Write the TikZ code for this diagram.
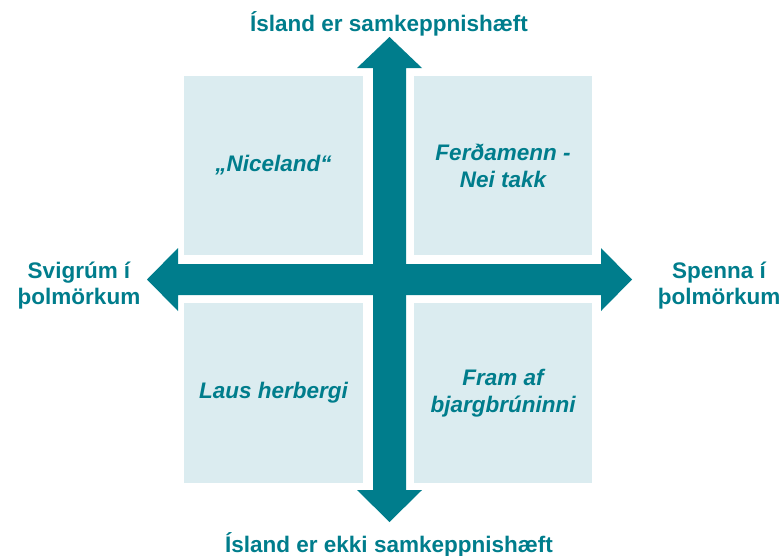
\documentclass[tikz,border=0pt]{standalone}
\usepackage{fontspec}
\setmainfont{Liberation Sans}
\definecolor{teal}{RGB}{0,125,140}
\definecolor{paleblue}{RGB}{219,236,240}
\tikzset{
  quadrant/.style={fill=paleblue, draw=none},
  quadtext/.style={text=teal, align=center, font=\fontsize{22.5}{27}\selectfont\bfseries\itshape},
  axislabel/.style={text=teal, align=center, font=\fontsize{22.5}{26}\selectfont\bfseries}
}
\begin{document}
\begin{tikzpicture}[x=1pt, y=-1pt]
        \useasboundingbox (0,0) rectangle (783,555);

        % Four quadrants
        \draw[quadrant] (184,76) rectangle (363,255) coordinate (tl);
        \draw[quadrant] (414,76) rectangle (592,255) coordinate (tr);
        \draw[quadrant] (184,303) rectangle (363,483) coordinate (bl);
        \draw[quadrant] (414,303) rectangle (592,483) coordinate (br);

        % Axes as double arrows
        \fill[teal] (373,68) -- (357,68) -- (389.5,37) -- (422,68) -- (406,68)
          -- (406,490) -- (422,490) -- (389.5,522) -- (357,490) -- (373,490) -- cycle;
        \fill[teal] (178,264) -- (178,248) -- (147,279.5) -- (178,311) -- (178,295)
          -- (601,295) -- (601,311) -- (632,279.5) -- (601,248) -- (601,264) -- cycle;

        % Axis labels
        \node[axislabel, anchor=base] (top) at (389,31) {Ísland er samkeppnishæft};
        \node[axislabel, anchor=base] (bottom) at (389,552) {Ísland er ekki samkeppnishæft};
        \node[axislabel] (left) at (79,286) {Svigrúm í\\þolmörkum};
        \node[axislabel] (right) at (719,286) {Spenna í\\þolmörkum};

        % Quadrant texts
        \node[quadtext] (nice) at (273.5,165.5) {„Niceland“};
        \node[quadtext] (nei) at (503,165.5) {Ferðamenn -\\Nei takk};
        \node[quadtext] (laus) at (273.5,393) {Laus herbergi};
        \node[quadtext] (fram) at (503,393) {Fram af\\bjargbrúninni};
      \end{tikzpicture}
\end{document}
